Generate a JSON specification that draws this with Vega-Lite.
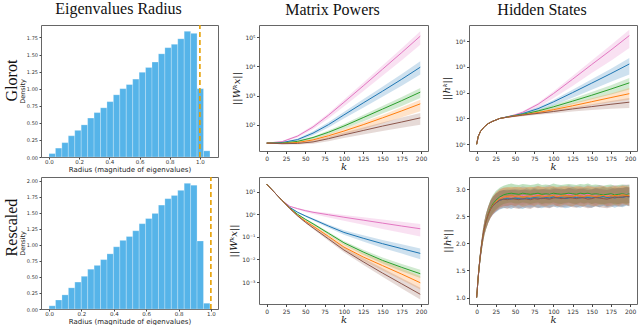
{
"$schema": "https://vega.github.io/schema/vega-lite/v6.json",
"background": "white",
"padding": {"left": 2, "top": 0, "right": 0, "bottom": 0},
"autosize": {"type": "pad"},
"config": {
  "view": {"stroke": "#666", "strokeWidth": 1},
  "axis": {"grid": false, "domain": false, "labelOverlap": false, "labelFont": "DejaVu Sans", "labelFontSize": 6, "labelColor": "#333", "tickColor": "#444", "tickSize": 2.5, "labelPadding": 1.5, "titleFont": "DejaVu Sans", "titleFontWeight": "normal", "titleColor": "#222"},
  "title": {"font": "Liberation Serif", "fontSize": 16, "fontWeight": "normal", "color": "#111", "anchor": "middle", "baseline": "alphabetic", "offset": 7.5, "dx": -11},
  "line": {"strokeWidth": 1, "clip": true},
  "area": {"opacity": 0.22, "clip": true}
},
"datasets": {
"h1": [
{"lo":0,"hi":0.0427,"d":0.05},{"lo":0.0427,"hi":0.0853,"d":0.13},{"lo":0.0853,"hi":0.128,"d":0.21},{"lo":0.128,"hi":0.1707,"d":0.31},{"lo":0.1707,"hi":0.2133,"d":0.39},{"lo":0.2133,"hi":0.256,"d":0.47},{"lo":0.256,"hi":0.2987,"d":0.57},{"lo":0.2987,"hi":0.3413,"d":0.65},{"lo":0.3413,"hi":0.384,"d":0.72},{"lo":0.384,"hi":0.4267,"d":0.81},{"lo":0.4267,"hi":0.4693,"d":0.91},{"lo":0.4693,"hi":0.512,"d":1.00},{"lo":0.512,"hi":0.5547,"d":1.06},{"lo":0.5547,"hi":0.5973,"d":1.14},{"lo":0.5973,"hi":0.64,"d":1.24},{"lo":0.64,"hi":0.6827,"d":1.31},{"lo":0.6827,"hi":0.7253,"d":1.39},{"lo":0.7253,"hi":0.768,"d":1.51},{"lo":0.768,"hi":0.8107,"d":1.60},{"lo":0.8107,"hi":0.8533,"d":1.65},{"lo":0.8533,"hi":0.896,"d":1.73},{"lo":0.896,"hi":0.9387,"d":1.84},{"lo":0.9387,"hi":0.9813,"d":1.81},{"lo":0.9813,"hi":1.024,"d":1.00},{"lo":1.024,"hi":1.0667,"d":0.09}
],
"h2": [
{"lo":0,"hi":0.0398,"d":0.05},{"lo":0.0398,"hi":0.0795,"d":0.14},{"lo":0.0795,"hi":0.1193,"d":0.22},{"lo":0.1193,"hi":0.159,"d":0.33},{"lo":0.159,"hi":0.1988,"d":0.42},{"lo":0.1988,"hi":0.2386,"d":0.51},{"lo":0.2386,"hi":0.2783,"d":0.62},{"lo":0.2783,"hi":0.3181,"d":0.68},{"lo":0.3181,"hi":0.3578,"d":0.77},{"lo":0.3578,"hi":0.3976,"d":0.86},{"lo":0.3976,"hi":0.4374,"d":0.97},{"lo":0.4374,"hi":0.4771,"d":1.07},{"lo":0.4771,"hi":0.5169,"d":1.13},{"lo":0.5169,"hi":0.5566,"d":1.22},{"lo":0.5566,"hi":0.5964,"d":1.33},{"lo":0.5964,"hi":0.6362,"d":1.41},{"lo":0.6362,"hi":0.6759,"d":1.49},{"lo":0.6759,"hi":0.7157,"d":1.62},{"lo":0.7157,"hi":0.7554,"d":1.72},{"lo":0.7554,"hi":0.7952,"d":1.77},{"lo":0.7952,"hi":0.835,"d":1.85},{"lo":0.835,"hi":0.8747,"d":1.96},{"lo":0.8747,"hi":0.9145,"d":1.93},{"lo":0.9145,"hi":0.9542,"d":1.06},{"lo":0.9542,"hi":0.994,"d":0.09}
],
"mp1": [
{"k":0,"s":"pink","m":24.0,"lo":23.4,"hi":24.5},{"k":20,"s":"pink","m":26.9,"lo":25.7,"hi":28.2},{"k":40,"s":"pink","m":41.7,"lo":37.2,"hi":45.7},{"k":60,"s":"pink","m":85.1,"lo":70.8,"hi":97.7},{"k":80,"s":"pink","m":214,"lo":166,"hi":251},{"k":100,"s":"pink","m":589,"lo":427,"hi":724},{"k":125,"s":"pink","m":2138,"lo":1413,"hi":2754},{"k":150,"s":"pink","m":7943,"lo":4786,"hi":10715},{"k":175,"s":"pink","m":29512,"lo":16218,"hi":41687},{"k":199,"s":"pink","m":107152,"lo":54954,"hi":158489},
{"k":0,"s":"blue","m":24.0,"lo":23.4,"hi":24.5},{"k":20,"s":"blue","m":25.1,"lo":24.0,"hi":26.3},{"k":40,"s":"blue","m":31.6,"lo":28.2,"hi":34.7},{"k":60,"s":"blue","m":52.5,"lo":44.7,"hi":60.3},{"k":80,"s":"blue","m":102,"lo":81.3,"hi":123},{"k":100,"s":"blue","m":219,"lo":166,"hi":275},{"k":125,"s":"blue","m":562,"lo":389,"hi":759},{"k":150,"s":"blue","m":1413,"lo":912,"hi":1995},{"k":175,"s":"blue","m":3631,"lo":2188,"hi":5495},{"k":199,"s":"blue","m":9333,"lo":5248,"hi":14791},
{"k":0,"s":"green","m":24.0,"lo":23.4,"hi":24.5},{"k":20,"s":"green","m":24.0,"lo":22.9,"hi":25.1},{"k":40,"s":"green","m":27.5,"lo":25.1,"hi":29.5},{"k":60,"s":"green","m":37.2,"lo":32.4,"hi":40.7},{"k":80,"s":"green","m":56.2,"lo":46.8,"hi":64.6},{"k":100,"s":"green","m":91.2,"lo":72.4,"hi":107},{"k":125,"s":"green","m":178,"lo":132,"hi":219},{"k":150,"s":"green","m":347,"lo":245,"hi":447},{"k":175,"s":"green","m":676,"lo":447,"hi":891},{"k":199,"s":"green","m":1318,"lo":832,"hi":1820},
{"k":0,"s":"orange","m":24.0,"lo":23.4,"hi":24.5},{"k":20,"s":"orange","m":23.4,"lo":22.4,"hi":24.5},{"k":40,"s":"orange","m":25.1,"lo":22.9,"hi":26.9},{"k":60,"s":"orange","m":30.9,"lo":26.3,"hi":33.9},{"k":80,"s":"orange","m":42.7,"lo":33.9,"hi":49.0},{"k":100,"s":"orange","m":61.7,"lo":46.8,"hi":72.4},{"k":125,"s":"orange","m":102,"lo":70.8,"hi":126},{"k":150,"s":"orange","m":174,"lo":112,"hi":219},{"k":175,"s":"orange","m":302,"lo":182,"hi":398},{"k":199,"s":"orange","m":525,"lo":295,"hi":724},
{"k":0,"s":"brown","m":24.0,"lo":23.4,"hi":24.5},{"k":20,"s":"brown","m":22.9,"lo":21.9,"hi":24.0},{"k":40,"s":"brown","m":23.4,"lo":21.4,"hi":25.1},{"k":60,"s":"brown","m":26.3,"lo":22.9,"hi":29.5},{"k":80,"s":"brown","m":33.9,"lo":27.5,"hi":39.8},{"k":100,"s":"brown","m":45.7,"lo":35.5,"hi":55.0},{"k":125,"s":"brown","m":64.6,"lo":46.8,"hi":81.3},{"k":150,"s":"brown","m":91.2,"lo":61.7,"hi":120},{"k":175,"s":"brown","m":126,"lo":79.4,"hi":178},{"k":199,"s":"brown","m":174,"lo":102,"hi":257}
],
"hs1": [
{"k":0,"s":"pink","m":1.00,"lo":0.98,"hi":1.02},{"k":2,"s":"pink","m":2.00,"lo":1.95,"hi":2.05},{"k":5,"s":"pink","m":3.16,"lo":3.09,"hi":3.24},{"k":10,"s":"pink","m":4.79,"lo":4.68,"hi":4.90},{"k":15,"s":"pink","m":6.31,"lo":6.17,"hi":6.46},{"k":20,"s":"pink","m":7.59,"lo":7.41,"hi":7.76},{"k":30,"s":"pink","m":10.0,"lo":9.77,"hi":10.2},{"k":40,"s":"pink","m":11.7,"lo":11.2,"hi":12.3},{"k":50,"s":"pink","m":13.8,"lo":12.6,"hi":14.8},{"k":60,"s":"pink","m":17.4,"lo":15.1,"hi":19.1},{"k":80,"s":"pink","m":35.5,"lo":26.9,"hi":40.7},{"k":100,"s":"pink","m":91.2,"lo":60.3,"hi":112},{"k":125,"s":"pink","m":331,"lo":182,"hi":437},{"k":150,"s":"pink","m":1230,"lo":575,"hi":1778},{"k":175,"s":"pink","m":4467,"lo":1738,"hi":7079},{"k":199,"s":"pink","m":16218,"lo":5370,"hi":27542},
{"k":0,"s":"blue","m":1.00,"lo":0.98,"hi":1.02},{"k":2,"s":"blue","m":2.00,"lo":1.95,"hi":2.05},{"k":5,"s":"blue","m":3.16,"lo":3.09,"hi":3.24},{"k":10,"s":"blue","m":4.79,"lo":4.68,"hi":4.90},{"k":15,"s":"blue","m":6.31,"lo":6.17,"hi":6.46},{"k":20,"s":"blue","m":7.59,"lo":7.41,"hi":7.76},{"k":30,"s":"blue","m":10.0,"lo":9.77,"hi":10.2},{"k":40,"s":"blue","m":11.5,"lo":11.0,"hi":12.0},{"k":50,"s":"blue","m":13.2,"lo":12.3,"hi":14.1},{"k":60,"s":"blue","m":15.5,"lo":13.8,"hi":17.0},{"k":80,"s":"blue","m":24.0,"lo":19.5,"hi":27.5},{"k":100,"s":"blue","m":43.7,"lo":31.6,"hi":52.5},{"k":125,"s":"blue","m":100,"lo":63.1,"hi":129},{"k":150,"s":"blue","m":234,"lo":129,"hi":331},{"k":175,"s":"blue","m":550,"lo":263,"hi":851},{"k":199,"s":"blue","m":1288,"lo":501,"hi":2188},
{"k":0,"s":"green","m":1.00,"lo":0.98,"hi":1.02},{"k":2,"s":"green","m":2.00,"lo":1.95,"hi":2.05},{"k":5,"s":"green","m":3.16,"lo":3.09,"hi":3.24},{"k":10,"s":"green","m":4.79,"lo":4.68,"hi":4.90},{"k":15,"s":"green","m":6.31,"lo":6.17,"hi":6.46},{"k":20,"s":"green","m":7.59,"lo":7.41,"hi":7.76},{"k":30,"s":"green","m":10.0,"lo":9.77,"hi":10.2},{"k":40,"s":"green","m":11.5,"lo":11.0,"hi":12.0},{"k":50,"s":"green","m":12.9,"lo":12.0,"hi":13.8},{"k":60,"s":"green","m":14.5,"lo":13.2,"hi":15.5},{"k":80,"s":"green","m":19.5,"lo":17.0,"hi":21.9},{"k":100,"s":"green","m":28.2,"lo":22.9,"hi":33.1},{"k":125,"s":"green","m":46.8,"lo":35.5,"hi":57.5},{"k":150,"s":"green","m":79.4,"lo":55.0,"hi":105},{"k":175,"s":"green","m":138,"lo":85.1,"hi":195},{"k":199,"s":"green","m":240,"lo":132,"hi":372},
{"k":0,"s":"orange","m":1.00,"lo":0.98,"hi":1.02},{"k":2,"s":"orange","m":2.00,"lo":1.95,"hi":2.05},{"k":5,"s":"orange","m":3.16,"lo":3.09,"hi":3.24},{"k":10,"s":"orange","m":4.79,"lo":4.68,"hi":4.90},{"k":15,"s":"orange","m":6.31,"lo":6.17,"hi":6.46},{"k":20,"s":"orange","m":7.59,"lo":7.41,"hi":7.76},{"k":30,"s":"orange","m":10.0,"lo":9.77,"hi":10.2},{"k":40,"s":"orange","m":11.2,"lo":10.7,"hi":11.7},{"k":50,"s":"orange","m":12.6,"lo":11.7,"hi":13.5},{"k":60,"s":"orange","m":13.8,"lo":12.6,"hi":15.1},{"k":80,"s":"orange","m":17.0,"lo":14.8,"hi":19.1},{"k":100,"s":"orange","m":21.9,"lo":18.2,"hi":25.7},{"k":125,"s":"orange","m":30.9,"lo":24.0,"hi":38.9},{"k":150,"s":"orange","m":44.7,"lo":32.4,"hi":60.3},{"k":175,"s":"orange","m":64.6,"lo":42.7,"hi":93.3},{"k":199,"s":"orange","m":91.2,"lo":53.7,"hi":151},
{"k":0,"s":"brown","m":1.00,"lo":0.98,"hi":1.02},{"k":2,"s":"brown","m":2.00,"lo":1.95,"hi":2.05},{"k":5,"s":"brown","m":3.16,"lo":3.09,"hi":3.24},{"k":10,"s":"brown","m":4.79,"lo":4.68,"hi":4.90},{"k":15,"s":"brown","m":6.31,"lo":6.17,"hi":6.46},{"k":20,"s":"brown","m":7.59,"lo":7.41,"hi":7.76},{"k":30,"s":"brown","m":10.0,"lo":9.77,"hi":10.2},{"k":40,"s":"brown","m":11.2,"lo":10.7,"hi":11.7},{"k":50,"s":"brown","m":12.3,"lo":11.5,"hi":13.2},{"k":60,"s":"brown","m":13.5,"lo":12.3,"hi":14.5},{"k":80,"s":"brown","m":15.8,"lo":13.8,"hi":17.4},{"k":100,"s":"brown","m":18.6,"lo":15.5,"hi":21.4},{"k":125,"s":"brown","m":23.4,"lo":18.6,"hi":27.5},{"k":150,"s":"brown","m":28.8,"lo":21.4,"hi":35.5},{"k":175,"s":"brown","m":35.5,"lo":24.0,"hi":47.9},{"k":199,"s":"brown","m":42.7,"lo":25.7,"hi":61.7}
],
"mp2": [
{"k":0,"s":"pink","m":21.4,"lo":20.9,"hi":21.9},{"k":10,"s":"pink","m":9.33,"lo":9.12,"hi":9.55},{"k":20,"s":"pink","m":4.07,"lo":3.98,"hi":4.17},{"k":30,"s":"pink","m":2.24,"lo":2.14,"hi":2.34},{"k":40,"s":"pink","m":1.78,"lo":1.62,"hi":1.91},{"k":50,"s":"pink","m":1.45,"lo":1.26,"hi":1.58},{"k":60,"s":"pink","m":1.23,"lo":1.02,"hi":1.38},{"k":80,"s":"pink","m":0.955,"lo":0.724,"hi":1.15},{"k":100,"s":"pink","m":0.741,"lo":0.513,"hi":0.933},{"k":125,"s":"pink","m":0.550,"lo":0.347,"hi":0.741},{"k":150,"s":"pink","m":0.407,"lo":0.224,"hi":0.589},{"k":175,"s":"pink","m":0.302,"lo":0.151,"hi":0.468},{"k":199,"s":"pink","m":0.229,"lo":0.105,"hi":0.372},
{"k":0,"s":"blue","m":21.4,"lo":20.9,"hi":21.9},{"k":10,"s":"blue","m":9.33,"lo":9.12,"hi":9.55},{"k":20,"s":"blue","m":4.07,"lo":3.98,"hi":4.17},{"k":30,"s":"blue","m":2.00,"lo":1.91,"hi":2.09},{"k":40,"s":"blue","m":1.23,"lo":1.15,"hi":1.29},{"k":50,"s":"blue","m":0.851,"lo":0.776,"hi":0.912},{"k":60,"s":"blue","m":0.603,"lo":0.537,"hi":0.661},{"k":80,"s":"blue","m":0.302,"lo":0.251,"hi":0.355},{"k":100,"s":"blue","m":0.158,"lo":0.123,"hi":0.195},{"k":125,"s":"blue","m":0.0871,"lo":0.0617,"hi":0.117},{"k":150,"s":"blue","m":0.0501,"lo":0.0324,"hi":0.0724},{"k":175,"s":"blue","m":0.0302,"lo":0.0182,"hi":0.0468},{"k":199,"s":"blue","m":0.0186,"lo":0.0102,"hi":0.0309},
{"k":0,"s":"green","m":21.4,"lo":20.9,"hi":21.9},{"k":10,"s":"green","m":9.33,"lo":9.12,"hi":9.55},{"k":20,"s":"green","m":4.07,"lo":3.98,"hi":4.17},{"k":30,"s":"green","m":1.86,"lo":1.78,"hi":1.95},{"k":40,"s":"green","m":1.00,"lo":0.933,"hi":1.05},{"k":50,"s":"green","m":0.603,"lo":0.550,"hi":0.646},{"k":60,"s":"green","m":0.380,"lo":0.339,"hi":0.417},{"k":80,"s":"green","m":0.145,"lo":0.123,"hi":0.166},{"k":100,"s":"green","m":0.0550,"lo":0.0447,"hi":0.0661},{"k":125,"s":"green","m":0.0214,"lo":0.0162,"hi":0.0269},{"k":150,"s":"green","m":0.00912,"lo":0.00661,"hi":0.0123},{"k":175,"s":"green","m":0.00447,"lo":0.00302,"hi":0.00631},{"k":199,"s":"green","m":0.00234,"lo":0.00151,"hi":0.00347},
{"k":0,"s":"orange","m":21.4,"lo":20.9,"hi":21.9},{"k":10,"s":"orange","m":9.33,"lo":9.12,"hi":9.55},{"k":20,"s":"orange","m":4.07,"lo":3.98,"hi":4.17},{"k":30,"s":"orange","m":1.82,"lo":1.74,"hi":1.91},{"k":40,"s":"orange","m":0.891,"lo":0.832,"hi":0.955},{"k":50,"s":"orange","m":0.501,"lo":0.457,"hi":0.550},{"k":60,"s":"orange","m":0.302,"lo":0.263,"hi":0.347},{"k":80,"s":"orange","m":0.105,"lo":0.0832,"hi":0.129},{"k":100,"s":"orange","m":0.0355,"lo":0.0263,"hi":0.0479},{"k":125,"s":"orange","m":0.0129,"lo":0.00871,"hi":0.0191},{"k":150,"s":"orange","m":0.00537,"lo":0.00324,"hi":0.00871},{"k":175,"s":"orange","m":0.00224,"lo":0.00123,"hi":0.00398},{"k":199,"s":"orange","m":0.000933,"lo":0.000468,"hi":0.00182},
{"k":0,"s":"brown","m":21.4,"lo":20.9,"hi":21.9},{"k":10,"s":"brown","m":9.33,"lo":9.12,"hi":9.55},{"k":20,"s":"brown","m":4.07,"lo":3.98,"hi":4.17},{"k":30,"s":"brown","m":1.78,"lo":1.70,"hi":1.86},{"k":40,"s":"brown","m":0.851,"lo":0.794,"hi":0.912},{"k":50,"s":"brown","m":0.447,"lo":0.407,"hi":0.490},{"k":60,"s":"brown","m":0.251,"lo":0.224,"hi":0.288},{"k":80,"s":"brown","m":0.0813,"lo":0.0676,"hi":0.100},{"k":100,"s":"brown","m":0.0263,"lo":0.0209,"hi":0.0347},{"k":125,"s":"brown","m":0.00794,"lo":0.00589,"hi":0.0115},{"k":150,"s":"brown","m":0.00251,"lo":0.00170,"hi":0.00407},{"k":175,"s":"brown","m":0.000832,"lo":0.000525,"hi":0.00148},{"k":199,"s":"brown","m":0.000288,"lo":0.000170,"hi":0.000562}
],
"hs2": [
{"k":0,"s":"pink","m":1.00,"lo":0.98,"hi":1.02},{"k":2,"s":"pink","m":1.38,"lo":1.30,"hi":1.46},{"k":4,"s":"pink","m":1.68,"lo":1.58,"hi":1.78},{"k":6,"s":"pink","m":1.92,"lo":1.81,"hi":2.03},{"k":8,"s":"pink","m":2.12,"lo":2.00,"hi":2.24},{"k":10,"s":"pink","m":2.28,"lo":2.15,"hi":2.41},{"k":12,"s":"pink","m":2.40,"lo":2.26,"hi":2.54},{"k":15,"s":"pink","m":2.53,"lo":2.38,"hi":2.68},{"k":18,"s":"pink","m":2.63,"lo":2.47,"hi":2.79},{"k":21,"s":"pink","m":2.71,"lo":2.54,"hi":2.87},{"k":25,"s":"pink","m":2.77,"lo":2.60,"hi":2.94},
{"k":30,"s":"pink","m":2.84,"lo":2.67,"hi":3.01},{"k":35,"s":"pink","m":2.86,"lo":2.70,"hi":3.03},{"k":40,"s":"pink","m":2.87,"lo":2.69,"hi":3.04},{"k":45,"s":"pink","m":2.86,"lo":2.71,"hi":3.02},{"k":50,"s":"pink","m":2.88,"lo":2.70,"hi":3.05},{"k":55,"s":"pink","m":2.87,"lo":2.72,"hi":3.03},{"k":60,"s":"pink","m":2.89,"lo":2.71,"hi":3.06},{"k":65,"s":"pink","m":2.88,"lo":2.73,"hi":3.04},{"k":70,"s":"pink","m":2.87,"lo":2.70,"hi":3.03},{"k":75,"s":"pink","m":2.89,"lo":2.72,"hi":3.05},{"k":80,"s":"pink","m":2.90,"lo":2.74,"hi":3.07},{"k":85,"s":"pink","m":2.88,"lo":2.71,"hi":3.04},{"k":90,"s":"pink","m":2.89,"lo":2.72,"hi":3.06},{"k":95,"s":"pink","m":2.91,"lo":2.74,"hi":3.08},{"k":100,"s":"pink","m":2.89,"lo":2.73,"hi":3.05},{"k":105,"s":"pink","m":2.88,"lo":2.70,"hi":3.05},{"k":110,"s":"pink","m":2.90,"lo":2.73,"hi":3.07},{"k":115,"s":"pink","m":2.89,"lo":2.72,"hi":3.05},{"k":120,"s":"pink","m":2.91,"lo":2.75,"hi":3.08},{"k":125,"s":"pink","m":2.90,"lo":2.73,"hi":3.06},{"k":130,"s":"pink","m":2.88,"lo":2.71,"hi":3.05},{"k":135,"s":"pink","m":2.90,"lo":2.74,"hi":3.07},{"k":140,"s":"pink","m":2.89,"lo":2.72,"hi":3.05},{"k":145,"s":"pink","m":2.91,"lo":2.74,"hi":3.08},{"k":150,"s":"pink","m":2.90,"lo":2.73,"hi":3.06},{"k":155,"s":"pink","m":2.89,"lo":2.71,"hi":3.06},{"k":160,"s":"pink","m":2.91,"lo":2.74,"hi":3.08},{"k":165,"s":"pink","m":2.90,"lo":2.73,"hi":3.07},{"k":170,"s":"pink","m":2.88,"lo":2.70,"hi":3.05},{"k":175,"s":"pink","m":2.90,"lo":2.73,"hi":3.07},{"k":180,"s":"pink","m":2.91,"lo":2.75,"hi":3.08},{"k":185,"s":"pink","m":2.89,"lo":2.72,"hi":3.06},{"k":190,"s":"pink","m":2.91,"lo":2.74,"hi":3.08},{"k":195,"s":"pink","m":2.92,"lo":2.75,"hi":3.09},{"k":199,"s":"pink","m":2.91,"lo":2.74,"hi":3.08},
{"k":0,"s":"blue","m":1.00,"lo":0.98,"hi":1.02},{"k":2,"s":"blue","m":1.38,"lo":1.30,"hi":1.46},{"k":4,"s":"blue","m":1.68,"lo":1.58,"hi":1.78},{"k":6,"s":"blue","m":1.92,"lo":1.81,"hi":2.03},{"k":8,"s":"blue","m":2.12,"lo":2.00,"hi":2.24},{"k":10,"s":"blue","m":2.28,"lo":2.15,"hi":2.41},{"k":12,"s":"blue","m":2.40,"lo":2.26,"hi":2.54},{"k":15,"s":"blue","m":2.53,"lo":2.38,"hi":2.68},{"k":18,"s":"blue","m":2.63,"lo":2.47,"hi":2.79},{"k":21,"s":"blue","m":2.70,"lo":2.53,"hi":2.86},{"k":25,"s":"blue","m":2.75,"lo":2.58,"hi":2.92},
{"k":30,"s":"blue","m":2.80,"lo":2.63,"hi":2.97},{"k":35,"s":"blue","m":2.82,"lo":2.65,"hi":2.99},{"k":40,"s":"blue","m":2.83,"lo":2.66,"hi":3.00},{"k":45,"s":"blue","m":2.82,"lo":2.64,"hi":2.99},{"k":50,"s":"blue","m":2.84,"lo":2.67,"hi":3.01},{"k":55,"s":"blue","m":2.83,"lo":2.65,"hi":3.00},{"k":60,"s":"blue","m":2.82,"lo":2.64,"hi":2.99},{"k":65,"s":"blue","m":2.84,"lo":2.67,"hi":3.02},{"k":70,"s":"blue","m":2.83,"lo":2.66,"hi":3.00},{"k":75,"s":"blue","m":2.85,"lo":2.68,"hi":3.03},{"k":80,"s":"blue","m":2.84,"lo":2.66,"hi":3.01},{"k":85,"s":"blue","m":2.83,"lo":2.65,"hi":3.00},{"k":90,"s":"blue","m":2.85,"lo":2.68,"hi":3.02},{"k":95,"s":"blue","m":2.84,"lo":2.66,"hi":3.01},{"k":100,"s":"blue","m":2.86,"lo":2.69,"hi":3.04},{"k":105,"s":"blue","m":2.84,"lo":2.66,"hi":3.01},{"k":110,"s":"blue","m":2.85,"lo":2.68,"hi":3.02},{"k":115,"s":"blue","m":2.83,"lo":2.65,"hi":3.00},{"k":120,"s":"blue","m":2.84,"lo":2.66,"hi":3.02},{"k":125,"s":"blue","m":2.86,"lo":2.69,"hi":3.04},{"k":130,"s":"blue","m":2.85,"lo":2.67,"hi":3.02},{"k":135,"s":"blue","m":2.84,"lo":2.66,"hi":3.01},{"k":140,"s":"blue","m":2.86,"lo":2.69,"hi":3.03},{"k":145,"s":"blue","m":2.85,"lo":2.67,"hi":3.02},{"k":150,"s":"blue","m":2.84,"lo":2.66,"hi":3.01},{"k":155,"s":"blue","m":2.86,"lo":2.69,"hi":3.03},{"k":160,"s":"blue","m":2.85,"lo":2.67,"hi":3.02},{"k":165,"s":"blue","m":2.87,"lo":2.70,"hi":3.05},{"k":170,"s":"blue","m":2.85,"lo":2.67,"hi":3.02},{"k":175,"s":"blue","m":2.86,"lo":2.69,"hi":3.04},{"k":180,"s":"blue","m":2.84,"lo":2.66,"hi":3.01},{"k":185,"s":"blue","m":2.86,"lo":2.69,"hi":3.03},{"k":190,"s":"blue","m":2.85,"lo":2.67,"hi":3.02},{"k":195,"s":"blue","m":2.87,"lo":2.70,"hi":3.05},{"k":199,"s":"blue","m":2.86,"lo":2.69,"hi":3.03},
{"k":0,"s":"green","m":1.00,"lo":0.98,"hi":1.02},{"k":2,"s":"green","m":1.38,"lo":1.30,"hi":1.46},{"k":4,"s":"green","m":1.68,"lo":1.58,"hi":1.78},{"k":6,"s":"green","m":1.92,"lo":1.81,"hi":2.03},{"k":8,"s":"green","m":2.12,"lo":2.00,"hi":2.24},{"k":10,"s":"green","m":2.28,"lo":2.15,"hi":2.41},{"k":12,"s":"green","m":2.40,"lo":2.26,"hi":2.54},{"k":15,"s":"green","m":2.54,"lo":2.39,"hi":2.69},{"k":18,"s":"green","m":2.65,"lo":2.49,"hi":2.81},{"k":21,"s":"green","m":2.73,"lo":2.56,"hi":2.89},{"k":25,"s":"green","m":2.80,"lo":2.63,"hi":2.97},
{"k":30,"s":"green","m":2.86,"lo":2.69,"hi":3.03},{"k":35,"s":"green","m":2.90,"lo":2.73,"hi":3.07},{"k":40,"s":"green","m":2.92,"lo":2.75,"hi":3.09},{"k":45,"s":"green","m":2.93,"lo":2.76,"hi":3.11},{"k":50,"s":"green","m":2.92,"lo":2.74,"hi":3.09},{"k":55,"s":"green","m":2.91,"lo":2.74,"hi":3.08},{"k":60,"s":"green","m":2.93,"lo":2.76,"hi":3.10},{"k":65,"s":"green","m":2.92,"lo":2.75,"hi":3.09},{"k":70,"s":"green","m":2.91,"lo":2.73,"hi":3.08},{"k":75,"s":"green","m":2.92,"lo":2.75,"hi":3.09},{"k":80,"s":"green","m":2.93,"lo":2.76,"hi":3.11},{"k":85,"s":"green","m":2.91,"lo":2.73,"hi":3.08},{"k":90,"s":"green","m":2.92,"lo":2.75,"hi":3.09},{"k":95,"s":"green","m":2.91,"lo":2.74,"hi":3.08},{"k":100,"s":"green","m":2.93,"lo":2.76,"hi":3.11},{"k":105,"s":"green","m":2.92,"lo":2.74,"hi":3.09},{"k":110,"s":"green","m":2.91,"lo":2.73,"hi":3.08},{"k":115,"s":"green","m":2.92,"lo":2.75,"hi":3.09},{"k":120,"s":"green","m":2.93,"lo":2.76,"hi":3.10},{"k":125,"s":"green","m":2.92,"lo":2.74,"hi":3.09},{"k":130,"s":"green","m":2.91,"lo":2.73,"hi":3.08},{"k":135,"s":"green","m":2.93,"lo":2.76,"hi":3.10},{"k":140,"s":"green","m":2.92,"lo":2.74,"hi":3.09},{"k":145,"s":"green","m":2.93,"lo":2.76,"hi":3.11},{"k":150,"s":"green","m":2.91,"lo":2.73,"hi":3.08},{"k":155,"s":"green","m":2.92,"lo":2.75,"hi":3.09},{"k":160,"s":"green","m":2.91,"lo":2.73,"hi":3.08},{"k":165,"s":"green","m":2.90,"lo":2.72,"hi":3.07},{"k":170,"s":"green","m":2.91,"lo":2.74,"hi":3.08},{"k":175,"s":"green","m":2.92,"lo":2.75,"hi":3.09},{"k":180,"s":"green","m":2.90,"lo":2.72,"hi":3.07},{"k":185,"s":"green","m":2.91,"lo":2.73,"hi":3.08},{"k":190,"s":"green","m":2.92,"lo":2.75,"hi":3.09},{"k":195,"s":"green","m":2.91,"lo":2.73,"hi":3.08},{"k":199,"s":"green","m":2.92,"lo":2.75,"hi":3.09},
{"k":0,"s":"orange","m":1.00,"lo":0.98,"hi":1.02},{"k":2,"s":"orange","m":1.38,"lo":1.30,"hi":1.46},{"k":4,"s":"orange","m":1.68,"lo":1.58,"hi":1.78},{"k":6,"s":"orange","m":1.92,"lo":1.81,"hi":2.03},{"k":8,"s":"orange","m":2.12,"lo":2.00,"hi":2.24},{"k":10,"s":"orange","m":2.28,"lo":2.15,"hi":2.41},{"k":12,"s":"orange","m":2.40,"lo":2.26,"hi":2.54},{"k":15,"s":"orange","m":2.53,"lo":2.38,"hi":2.68},{"k":18,"s":"orange","m":2.63,"lo":2.47,"hi":2.79},{"k":21,"s":"orange","m":2.71,"lo":2.54,"hi":2.87},{"k":25,"s":"orange","m":2.77,"lo":2.60,"hi":2.94},
{"k":30,"s":"orange","m":2.83,"lo":2.66,"hi":3.00},{"k":35,"s":"orange","m":2.86,"lo":2.69,"hi":3.03},{"k":40,"s":"orange","m":2.87,"lo":2.70,"hi":3.04},{"k":45,"s":"orange","m":2.88,"lo":2.71,"hi":3.05},{"k":50,"s":"orange","m":2.87,"lo":2.69,"hi":3.04},{"k":55,"s":"orange","m":2.88,"lo":2.71,"hi":3.05},{"k":60,"s":"orange","m":2.86,"lo":2.68,"hi":3.03},{"k":65,"s":"orange","m":2.87,"lo":2.70,"hi":3.04},{"k":70,"s":"orange","m":2.88,"lo":2.71,"hi":3.05},{"k":75,"s":"orange","m":2.87,"lo":2.69,"hi":3.04},{"k":80,"s":"orange","m":2.89,"lo":2.72,"hi":3.06},{"k":85,"s":"orange","m":2.88,"lo":2.70,"hi":3.05},{"k":90,"s":"orange","m":2.87,"lo":2.69,"hi":3.04},{"k":95,"s":"orange","m":2.88,"lo":2.71,"hi":3.05},{"k":100,"s":"orange","m":2.89,"lo":2.72,"hi":3.06},{"k":105,"s":"orange","m":2.87,"lo":2.69,"hi":3.04},{"k":110,"s":"orange","m":2.88,"lo":2.70,"hi":3.05},{"k":115,"s":"orange","m":2.89,"lo":2.72,"hi":3.06},{"k":120,"s":"orange","m":2.88,"lo":2.70,"hi":3.05},{"k":125,"s":"orange","m":2.87,"lo":2.69,"hi":3.04},{"k":130,"s":"orange","m":2.89,"lo":2.72,"hi":3.06},{"k":135,"s":"orange","m":2.88,"lo":2.70,"hi":3.05},{"k":140,"s":"orange","m":2.87,"lo":2.69,"hi":3.04},{"k":145,"s":"orange","m":2.89,"lo":2.72,"hi":3.06},{"k":150,"s":"orange","m":2.88,"lo":2.70,"hi":3.05},{"k":155,"s":"orange","m":2.87,"lo":2.69,"hi":3.04},{"k":160,"s":"orange","m":2.88,"lo":2.71,"hi":3.05},{"k":165,"s":"orange","m":2.89,"lo":2.72,"hi":3.06},{"k":170,"s":"orange","m":2.87,"lo":2.69,"hi":3.04},{"k":175,"s":"orange","m":2.88,"lo":2.70,"hi":3.05},{"k":180,"s":"orange","m":2.89,"lo":2.72,"hi":3.06},{"k":185,"s":"orange","m":2.88,"lo":2.70,"hi":3.05},{"k":190,"s":"orange","m":2.90,"lo":2.73,"hi":3.07},{"k":195,"s":"orange","m":2.89,"lo":2.71,"hi":3.06},{"k":199,"s":"orange","m":2.88,"lo":2.70,"hi":3.05},
{"k":0,"s":"brown","m":1.00,"lo":0.98,"hi":1.02},{"k":2,"s":"brown","m":1.38,"lo":1.30,"hi":1.46},{"k":4,"s":"brown","m":1.68,"lo":1.58,"hi":1.78},{"k":6,"s":"brown","m":1.92,"lo":1.81,"hi":2.03},{"k":8,"s":"brown","m":2.12,"lo":2.00,"hi":2.24},{"k":10,"s":"brown","m":2.28,"lo":2.15,"hi":2.41},{"k":12,"s":"brown","m":2.40,"lo":2.26,"hi":2.54},{"k":15,"s":"brown","m":2.53,"lo":2.38,"hi":2.68},{"k":18,"s":"brown","m":2.63,"lo":2.47,"hi":2.79},{"k":21,"s":"brown","m":2.70,"lo":2.53,"hi":2.86},{"k":25,"s":"brown","m":2.75,"lo":2.59,"hi":2.92},
{"k":30,"s":"brown","m":2.80,"lo":2.64,"hi":2.97},{"k":35,"s":"brown","m":2.82,"lo":2.66,"hi":2.99},{"k":40,"s":"brown","m":2.81,"lo":2.64,"hi":2.98},{"k":45,"s":"brown","m":2.83,"lo":2.67,"hi":3.00},{"k":50,"s":"brown","m":2.82,"lo":2.65,"hi":2.99},{"k":55,"s":"brown","m":2.81,"lo":2.64,"hi":2.98},{"k":60,"s":"brown","m":2.83,"lo":2.67,"hi":3.00},{"k":65,"s":"brown","m":2.82,"lo":2.65,"hi":2.99},{"k":70,"s":"brown","m":2.81,"lo":2.64,"hi":2.98},{"k":75,"s":"brown","m":2.83,"lo":2.67,"hi":3.01},{"k":80,"s":"brown","m":2.82,"lo":2.65,"hi":2.99},{"k":85,"s":"brown","m":2.84,"lo":2.68,"hi":3.01},{"k":90,"s":"brown","m":2.83,"lo":2.66,"hi":3.00},{"k":95,"s":"brown","m":2.82,"lo":2.65,"hi":2.99},{"k":100,"s":"brown","m":2.84,"lo":2.68,"hi":3.01},{"k":105,"s":"brown","m":2.85,"lo":2.69,"hi":3.02},{"k":110,"s":"brown","m":2.83,"lo":2.66,"hi":3.00},{"k":115,"s":"brown","m":2.84,"lo":2.68,"hi":3.01},{"k":120,"s":"brown","m":2.85,"lo":2.69,"hi":3.03},{"k":125,"s":"brown","m":2.84,"lo":2.67,"hi":3.01},{"k":130,"s":"brown","m":2.83,"lo":2.66,"hi":3.00},{"k":135,"s":"brown","m":2.85,"lo":2.69,"hi":3.02},{"k":140,"s":"brown","m":2.84,"lo":2.67,"hi":3.01},{"k":145,"s":"brown","m":2.82,"lo":2.65,"hi":2.99},{"k":150,"s":"brown","m":2.83,"lo":2.66,"hi":3.00},{"k":155,"s":"brown","m":2.85,"lo":2.69,"hi":3.02},{"k":160,"s":"brown","m":2.84,"lo":2.67,"hi":3.01},{"k":165,"s":"brown","m":2.83,"lo":2.66,"hi":3.00},{"k":170,"s":"brown","m":2.82,"lo":2.65,"hi":2.99},{"k":175,"s":"brown","m":2.84,"lo":2.67,"hi":3.01},{"k":180,"s":"brown","m":2.86,"lo":2.70,"hi":3.03},{"k":185,"s":"brown","m":2.85,"lo":2.68,"hi":3.02},{"k":190,"s":"brown","m":2.86,"lo":2.69,"hi":3.03},{"k":195,"s":"brown","m":2.87,"lo":2.71,"hi":3.04},{"k":199,"s":"brown","m":2.87,"lo":2.70,"hi":3.04}
],
"vline": [{"r": 1.0, "a": 0, "b": 1}]
},
"columns": 3,
"bounds": "flush",
"spacing": {"row": 20, "column": 41},
"concat": [
{
  "width": 177, "height": 132,
  "title": {"text": "Eigenvalues Radius"},
  "layer": [
    {"data": {"name": "h1"},
     "mark": {"type": "rect", "color": "#56B4E9", "stroke": "#ffffff", "strokeWidth": 0.4, "strokeOpacity": 0.6},
     "encoding": {
       "x": {"field": "lo", "type": "quantitative", "scale": {"domain": [-0.053, 1.12], "nice": false, "zero": false},
             "axis": {"values": [0, 0.2, 0.4, 0.6, 0.8, 1.0], "tickCount": 20, "format": ".1f", "labelOverlap": false, "labelFontSize": 5.5, "tickSize": 2, "labelPadding": 0.5, "title": "Radius (magnitude of eigenvalues)", "titleFontSize": 7, "titlePadding": 0.5}},
       "x2": {"field": "hi"},
       "y": {"field": "d", "type": "quantitative", "scale": {"domain": [0, 1.932], "nice": false},
             "axis": {"values": [0, 0.25, 0.5, 0.75, 1.0, 1.25, 1.5, 1.75], "tickCount": 20, "format": ".2f", "labelOverlap": false, "labelFontSize": 5, "tickSize": 2, "title": "Density", "titleFontSize": 6.5, "titlePadding": 1}},
       "y2": {"datum": 0}
     }},
    {"data": {"name": "vline"},
     "mark": {"type": "rule", "color": "#E69F00", "strokeDash": [5, 3], "strokeWidth": 1.6},
     "encoding": {
       "x": {"field": "r", "type": "quantitative"},
       "y": {"field": "a", "type": "quantitative", "scale": {"domain": [0, 1], "nice": false},
             "axis": {"orient": "left", "title": "Glorot", "labels": false, "ticks": false, "domain": false, "titleFont": "Liberation Serif", "titleFontSize": 16, "titleColor": "#111", "offset": 20, "titlePadding": 2, "titleY": 55}},
       "y2": {"field": "b"}
     }}
  ],
  "resolve": {"scale": {"y": "independent"}, "axis": {"y": "independent"}}
},
{
  "width": 169, "height": 126,
  "title": {"text": "Matrix Powers"},
  "data": {"name": "mp1"},
  "encoding": {
    "x": {"field": "k", "type": "quantitative", "scale": {"domain": [-10, 209], "nice": false, "zero": false},
          "axis": {"values": [0, 25, 50, 75, 100, 125, 150, 175, 200], "tickCount": 20, "labelOverlap": false, "title": "k", "titleFont": "DejaVu Serif", "titleFontStyle": "italic", "titleFontSize": 10, "titlePadding": 0}},
    "color": {"field": "s", "type": "nominal", "scale": {"domain": ["pink", "blue", "green", "orange", "brown"], "range": ["#e377c2", "#1f77b4", "#2ca02c", "#ff7f0e", "#8c564b"]}, "legend": null}
  },
  "layer": [
    {"mark": {"type": "area"},
     "encoding": {"y": {"field": "lo", "type": "quantitative", "scale": {"type": "log", "domain": [12.9, 257000], "nice": false},
       "axis": {"values": [100, 1000, 10000, 100000], "tickCount": 20, "labelOverlap": false, "labelExpr": "'10' + replace(replace(replace(replace(replace(replace(replace(replace(toString(round(log(datum.value)/LN10)),'-','⁻'),'0','⁰'),'1','¹'),'2','²'),'3','³'),'4','⁴'),'5','⁵'),'6','⁶')", "title": "||Wᵏx||", "titleFont": "DejaVu Serif", "titleFontStyle": "italic", "titleFontSize": 10, "titlePadding": 3}},
       "y2": {"field": "hi"}}},
    {"mark": {"type": "line"},
     "encoding": {"y": {"field": "m", "type": "quantitative", "scale": {"type": "log", "domain": [12.9, 257000], "nice": false}}}}
  ]
},
{
  "width": 168, "height": 126,
  "title": {"text": "Hidden States"},
  "data": {"name": "hs1"},
  "encoding": {
    "x": {"field": "k", "type": "quantitative", "scale": {"domain": [-10, 209], "nice": false, "zero": false},
          "axis": {"values": [0, 25, 50, 75, 100, 125, 150, 175, 200], "tickCount": 20, "labelOverlap": false, "title": "k", "titleFont": "DejaVu Serif", "titleFontStyle": "italic", "titleFontSize": 10, "titlePadding": 0}},
    "color": {"field": "s", "type": "nominal", "scale": {"domain": ["pink", "blue", "green", "orange", "brown"], "range": ["#e377c2", "#1f77b4", "#2ca02c", "#ff7f0e", "#8c564b"]}, "legend": null}
  },
  "layer": [
    {"mark": {"type": "area"},
     "encoding": {"y": {"field": "lo", "type": "quantitative", "scale": {"type": "log", "domain": [0.55, 41700], "nice": false},
       "axis": {"values": [1, 10, 100, 1000, 10000], "tickCount": 20, "labelOverlap": false, "labelExpr": "'10' + replace(replace(replace(replace(replace(replace(replace(replace(toString(round(log(datum.value)/LN10)),'-','⁻'),'0','⁰'),'1','¹'),'2','²'),'3','³'),'4','⁴'),'5','⁵'),'6','⁶')", "title": "||hᵏ||", "titleFont": "DejaVu Serif", "titleFontStyle": "italic", "titleFontSize": 10, "titlePadding": 3}},
       "y2": {"field": "hi"}}},
    {"mark": {"type": "line"},
     "encoding": {"y": {"field": "m", "type": "quantitative", "scale": {"type": "log", "domain": [0.55, 41700], "nice": false}}}}
  ]
},
{
  "width": 177, "height": 132,
  "layer": [
    {"data": {"name": "h2"},
     "mark": {"type": "rect", "color": "#56B4E9", "stroke": "#ffffff", "strokeWidth": 0.4, "strokeOpacity": 0.6},
     "encoding": {
       "x": {"field": "lo", "type": "quantitative", "scale": {"domain": [-0.05, 1.044], "nice": false, "zero": false},
             "axis": {"values": [0, 0.2, 0.4, 0.6, 0.8, 1.0], "tickCount": 20, "format": ".1f", "labelOverlap": false, "labelFontSize": 5.5, "tickSize": 2, "labelPadding": 0.5, "title": "Radius (magnitude of eigenvalues)", "titleFontSize": 7, "titlePadding": 0.5}},
       "x2": {"field": "hi"},
       "y": {"field": "d", "type": "quantitative", "scale": {"domain": [0, 2.058], "nice": false},
             "axis": {"values": [0, 0.25, 0.5, 0.75, 1.0, 1.25, 1.5, 1.75, 2.0], "tickCount": 20, "format": ".2f", "labelOverlap": false, "labelFontSize": 5, "tickSize": 2, "title": "Density", "titleFontSize": 6.5, "titlePadding": 1}},
       "y2": {"datum": 0}
     }},
    {"data": {"name": "vline"},
     "mark": {"type": "rule", "color": "#E69F00", "strokeDash": [5, 3], "strokeWidth": 1.6},
     "encoding": {
       "x": {"field": "r", "type": "quantitative"},
       "y": {"field": "a", "type": "quantitative", "scale": {"domain": [0, 1], "nice": false},
             "axis": {"orient": "left", "title": "Rescaled", "labels": false, "ticks": false, "domain": false, "titleFont": "Liberation Serif", "titleFontSize": 16, "titleColor": "#111", "offset": 20, "titlePadding": 2, "titleY": 50}},
       "y2": {"field": "b"}
     }}
  ],
  "resolve": {"scale": {"y": "independent"}, "axis": {"y": "independent"}}
},
{
  "width": 169, "height": 127,
  "data": {"name": "mp2"},
  "encoding": {
    "x": {"field": "k", "type": "quantitative", "scale": {"domain": [-10, 209], "nice": false, "zero": false},
          "axis": {"values": [0, 25, 50, 75, 100, 125, 150, 175, 200], "tickCount": 20, "labelOverlap": false, "title": "k", "titleFont": "DejaVu Serif", "titleFontStyle": "italic", "titleFontSize": 10, "titlePadding": 0}},
    "color": {"field": "s", "type": "nominal", "scale": {"domain": ["pink", "blue", "green", "orange", "brown"], "range": ["#e377c2", "#1f77b4", "#2ca02c", "#ff7f0e", "#8c564b"]}, "legend": null}
  },
  "layer": [
    {"mark": {"type": "area"},
     "encoding": {"y": {"field": "lo", "type": "quantitative", "scale": {"type": "log", "domain": [0.000107, 44.7], "nice": false},
       "axis": {"values": [0.001, 0.01, 0.1, 1, 10], "tickCount": 20, "labelOverlap": false, "labelExpr": "'10' + replace(replace(replace(replace(replace(replace(replace(replace(toString(round(log(datum.value)/LN10)),'-','⁻'),'0','⁰'),'1','¹'),'2','²'),'3','³'),'4','⁴'),'5','⁵'),'6','⁶')", "title": "||Wᵏx||", "titleFont": "DejaVu Serif", "titleFontStyle": "italic", "titleFontSize": 10, "titlePadding": 3}},
       "y2": {"field": "hi"}}},
    {"mark": {"type": "line"},
     "encoding": {"y": {"field": "m", "type": "quantitative", "scale": {"type": "log", "domain": [0.000107, 44.7], "nice": false}}}}
  ]
},
{
  "width": 168, "height": 127,
  "data": {"name": "hs2"},
  "encoding": {
    "x": {"field": "k", "type": "quantitative", "scale": {"domain": [-10, 209], "nice": false, "zero": false},
          "axis": {"values": [0, 25, 50, 75, 100, 125, 150, 175, 200], "tickCount": 20, "labelOverlap": false, "title": "k", "titleFont": "DejaVu Serif", "titleFontStyle": "italic", "titleFontSize": 10, "titlePadding": 0}},
    "color": {"field": "s", "type": "nominal", "scale": {"domain": ["pink", "blue", "green", "orange", "brown"], "range": ["#e377c2", "#1f77b4", "#2ca02c", "#ff7f0e", "#8c564b"]}, "legend": null}
  },
  "layer": [
    {"mark": {"type": "area", "opacity": 0.3},
     "encoding": {"y": {"field": "lo", "type": "quantitative", "scale": {"domain": [0.88, 3.23], "nice": false, "zero": false},
       "axis": {"values": [1.0, 1.5, 2.0, 2.5, 3.0], "tickCount": 20, "format": ".1f", "labelOverlap": false, "title": "||hᵏ||", "titleFont": "DejaVu Serif", "titleFontStyle": "italic", "titleFontSize": 10, "titlePadding": 3}},
       "y2": {"field": "hi"}}},
    {"mark": {"type": "line"},
     "encoding": {"y": {"field": "m", "type": "quantitative", "scale": {"domain": [0.88, 3.23], "nice": false, "zero": false}}}}
  ]
}
]
}
